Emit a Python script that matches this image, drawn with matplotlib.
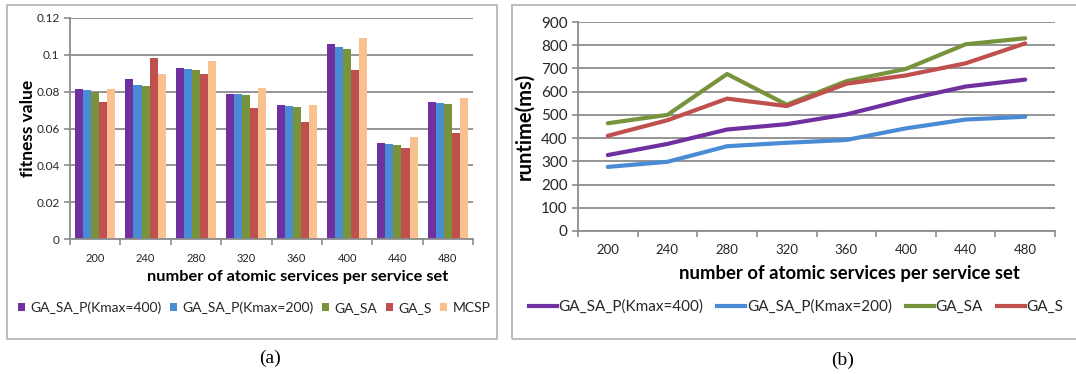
import matplotlib
matplotlib.use("Agg")
import matplotlib.pyplot as plt
from matplotlib.patches import Rectangle, Patch
from matplotlib.lines import Line2D

plt.rcParams['font.family'] = ['Lato', 'DejaVu Sans']

# ---- data ----
sizes = ["200", "240", "280", "320", "360", "400", "440", "480"]

series_names = ["GA_SA_P(Kmax=400)", "GA_SA_P(Kmax=200)", "GA_SA", "GA_S", "MCSP"]

fit_gasap400 = [0.0814, 0.0870, 0.0930, 0.0789, 0.0727, 0.1059, 0.0520, 0.0745]
fit_gasap200 = [0.0807, 0.0836, 0.0921, 0.0789, 0.0722, 0.1043, 0.0515, 0.0740]
fit_gasa     = [0.0796, 0.0830, 0.0916, 0.0780, 0.0716, 0.1034, 0.0510, 0.0731]
fit_gas      = [0.0742, 0.0983, 0.0894, 0.0713, 0.0633, 0.0919, 0.0493, 0.0578]
fit_mcsp     = [0.0816, 0.0896, 0.0968, 0.0820, 0.0727, 0.1092, 0.0555, 0.0763]

rt_gasap400 = [327, 375, 437, 460, 502, 566, 622, 652]
rt_gasap200 = [276, 298, 365, 380, 392, 442, 480, 492]
rt_gasa     = [464, 500, 676, 544, 645, 698, 804, 830]
rt_gas      = [410, 477, 570, 538, 634, 670, 722, 808]

fit_yticks = [0, 0.02, 0.04, 0.06, 0.08, 0.1, 0.12]
fit_yticklabels = ["0", "0.02", "0.04", "0.06", "0.08", "0.1", "0.12"]
rt_yticks = [0, 100, 200, 300, 400, 500, 600, 700, 800, 900]

bar_colors = ["#7030A0", "#4A8BD6", "#77933C", "#C0504D", "#FAC090"]
line_colors = ["#7030A0", "#4A8BD6", "#77933C", "#C0504D"]
grid_c = "#8C8C8C"
text_c = "#262626"

W, H = 1076, 374
fig = plt.figure(figsize=(W / 100, H / 100), dpi=100)
fig.patch.set_facecolor("white")


def px_axes(x0, y0, x1, y1):
    return fig.add_axes([x0 / W, 1 - y1 / H, (x1 - x0) / W, (y1 - y0) / H])


def frame(x0, y0, x1, y1):
    fig.patches.append(Rectangle((x0 / W, 1 - y1 / H), (x1 - x0) / W, (y1 - y0) / H,
                                 transform=fig.transFigure, fill=False,
                                 edgecolor="#BDBDBD", lw=1.4, zorder=0))


def style_axes(ax, n):
    for s in ("top", "right"):
        ax.spines[s].set_visible(False)
    for s in ("left", "bottom"):
        ax.spines[s].set_color(grid_c)
        ax.spines[s].set_linewidth(1.3)
    ax.set_xlim(-0.5, n - 0.5)
    ax.set_xticks([i - 0.5 for i in range(n + 1)])
    ax.set_xticklabels([])
    ax.set_xticks(range(n), minor=True)
    ax.set_xticklabels(sizes, minor=True)
    ax.tick_params(axis="x", which="major", direction="out", length=4,
                   color=grid_c, width=1.2)
    ax.tick_params(axis="x", which="minor", length=0, pad=10,
                   labelsize=8, labelcolor=text_c)
    ax.tick_params(axis="y", direction="out", length=4, color=grid_c,
                   width=1.2, labelcolor=text_c)
    ax.yaxis.grid(True, color=grid_c, lw=1.3)
    ax.set_axisbelow(True)


# ---- panel (a): fitness bars ----
frame(7, 5, 497, 339)
ax1 = px_axes(70, 18, 473, 239)
n = len(sizes)
fit_series = [fit_gasap400, fit_gasap200, fit_gasa, fit_gas, fit_mcsp]
bw = 0.16
for k, vals in enumerate(fit_series):
    xs = [i + (k - 2) * bw for i in range(n)]
    ax1.bar(xs, vals, width=bw, color=bar_colors[k], linewidth=0)
style_axes(ax1, n)
ax1.set_ylim(0, 0.12)
ax1.set_yticks(fit_yticks)
ax1.set_yticklabels(fit_yticklabels)
ax1.tick_params(axis="y", labelsize=8.5)
ax1.set_ylabel("fitness value", fontsize=12.5, fontweight="bold", color="black", labelpad=0)
ax1.set_xlabel("number of atomic services per service set", fontsize=11.8,
               fontweight="bold", color="black")
ax1.xaxis.set_label_coords(0.566, -0.14)
handles_a = [Patch(facecolor=c, edgecolor="none") for c in bar_colors]
fig.legend(handles_a, series_names, loc="center", bbox_to_anchor=(254 / W, 1 - 308 / H),
           ncol=5, frameon=False, fontsize=10, handlelength=0.5, handleheight=0.5,
           handletextpad=0.4, columnspacing=0.6, labelcolor=text_c)
fig.text(270 / W, 1 - 358 / H, "(a)", ha="center", va="center",
         fontsize=14, family="Liberation Serif")

# ---- panel (b): runtime lines ----
frame(512, 5, 1080, 339)
ax2 = px_axes(578, 22, 1055, 231)
rt_series = [rt_gasap400, rt_gasap200, rt_gasa, rt_gas]
for k, vals in enumerate(rt_series):
    ax2.plot(range(n), vals, color=line_colors[k], lw=3, solid_joinstyle="round",
             solid_capstyle="round", zorder=3)
style_axes(ax2, n)
ax2.set_ylim(0, 900)
ax2.set_yticks(rt_yticks)
ax2.tick_params(axis="y", labelsize=11)
ax2.tick_params(axis="x", which="minor", labelsize=9.5, pad=9)
ax2.set_ylabel("runtime(ms)", fontsize=14.5, fontweight="bold", color="black", labelpad=5)
ax2.set_xlabel("number of atomic services per service set", fontsize=13.3,
               fontweight="bold", color="black")
ax2.xaxis.set_label_coords(0.57, -0.165)
handles_b = [Line2D([], [], color=c, lw=3) for c in line_colors]
fig.legend(handles_b, series_names[:4], loc="center", bbox_to_anchor=(796 / W, 1 - 307 / H),
           ncol=4, frameon=False, fontsize=11, handlelength=1.85,
           handletextpad=0.1, columnspacing=0.9, labelcolor=text_c)
fig.text(843 / W, 1 - 360 / H, "(b)", ha="center", va="center",
         fontsize=14, family="Liberation Serif")

fig.savefig("out.png", dpi=100, facecolor="white")
